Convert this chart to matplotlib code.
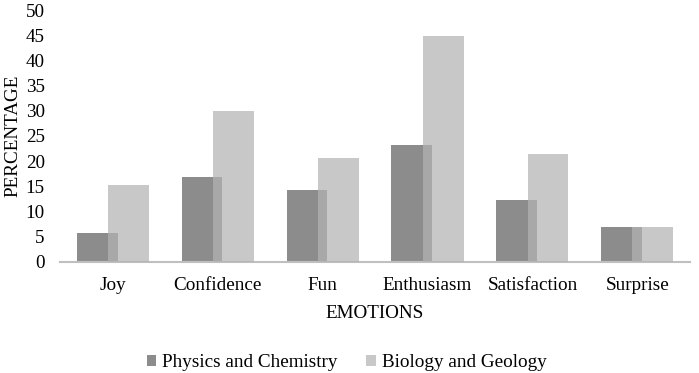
import matplotlib
matplotlib.use("Agg")
import matplotlib.pyplot as plt
import numpy as np

categories = ["Joy", "Confidence", "Fun", "Enthusiasm", "Satisfaction", "Surprise"]
physics_chem = [5.8, 16.9, 14.3, 23.2, 12.3, 6.9]
biology_geo = [15.3, 30.0, 20.7, 44.8, 21.5, 6.9]
yticks = list(range(0, 51, 5))

plt.rcParams['font.family'] = ['Liberation Serif', 'DejaVu Serif']
fs = 13.8

fig = plt.figure(figsize=(6.99, 3.73), dpi=100)
ax = fig.add_axes([0.086, 0.298, 0.901, 0.675])

x = np.arange(len(categories))
w = 0.39
off = 0.148
ax.bar(x - off, physics_chem, width=w, color="#8c8c8c", label="Physics and Chemistry", zorder=2)
ax.bar(x + off, biology_geo, width=w, color="#b3b3b3", alpha=0.72, label="Biology and Geology", zorder=3)

ax.set_xlim(-0.5, len(categories) - 0.5)
ax.set_ylim(0, 50)
ax.set_yticks(yticks)
ax.set_xticks(x)
ax.set_xticklabels(categories, fontsize=fs)
ax.tick_params(axis='y', labelsize=fs, length=0, pad=11)
ax.tick_params(axis='x', length=0, pad=11)
for s in ["top", "right", "left"]:
    ax.spines[s].set_visible(False)
ax.spines["bottom"].set_color("#bfbfbf")
ax.spines["bottom"].set_linewidth(1.5)
ax.set_ylabel("PERCENTAGE", fontsize=fs, labelpad=3)
ax.set_xlabel("EMOTIONS", fontsize=fs, labelpad=8)

leg = fig.legend(loc="center", bbox_to_anchor=(0.496, 0.027), ncol=2, frameon=False,
                 fontsize=fs, handlelength=0.5, handleheight=0.5, handletextpad=0.3,
                 columnspacing=1.5)

fig.savefig("out.png", dpi=100)
